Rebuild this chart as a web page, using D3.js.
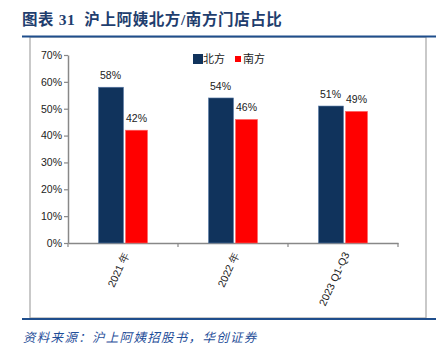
<!DOCTYPE html>
<html>
<head>
<meta charset="utf-8">
<script src="https://cdn.jsdelivr.net/npm/d3@7"></script>
<style>
  body { margin: 0; background: #fff; }
  svg { display: block; }
</style>
</head>
<body>
<svg width="438" height="354"></svg>
<script>
// chart data
var categories = ['2021 年', '2022 年', '2023 Q1-Q3'];
var seriesNames = ['北方', '南方'];
var north = [0.58, 0.54, 0.51];
var south = [0.42, 0.46, 0.49];
var yTicks = [0, 0.1, 0.2, 0.3, 0.4, 0.5, 0.6, 0.7];
var colors = ['#10335c', '#ff0000'];

var svg = d3.select('svg');
var font = '"Liberation Sans", Arial, sans-serif';

// title
svg.append('text')
    .attr('x', 22).attr('y', 25)
    .attr('fill', '#1f3e6e')
    .attr('font-size', 15.5)
    .attr('font-weight', 'bold')
    .attr('letter-spacing', 0.6)
    .attr('font-family', '"Liberation Serif", "Noto Sans CJK SC", serif')
    .style('white-space', 'pre')
    .text('图表 31  沪上阿姨北方/南方门店占比');

// frame
svg.append('rect')
    .attr('x', 30).attr('y', 37)
    .attr('width', 396).attr('height', 281)
    .attr('fill', 'none')
    .attr('stroke', '#a6a6a6')
    .attr('stroke-width', 1.2);
svg.append('line').attr('x1', 22).attr('x2', 436).attr('y1', 36.5).attr('y2', 36.5)
    .attr('stroke', '#1f4e8c').attr('stroke-width', 2);
svg.append('line').attr('x1', 22).attr('x2', 436).attr('y1', 319).attr('y2', 319)
    .attr('stroke', '#1f4e8c').attr('stroke-width', 2);

// source
svg.append('text')
    .attr('x', 23).attr('y', 342)
    .attr('fill', '#1f4e99')
    .attr('font-size', 12.5)
    .attr('font-style', 'italic')
    .attr('letter-spacing', 1.3)
    .attr('font-family', '"Noto Sans CJK SC", sans-serif')
    .text('资料来源：沪上阿姨招股书，华创证券');

// scales
var x = d3.scaleBand().domain(categories).range([68, 398]);
var y = d3.scaleLinear().domain([0, 0.7]).range([243, 55]);

// y axis
var yAxis = svg.append('g')
    .attr('transform', 'translate(68,0)')
    .call(d3.axisLeft(y).tickValues(yTicks).tickFormat(d3.format('.0%')).tickSize(4).tickSizeOuter(0));
yAxis.select('.domain').attr('stroke', '#888').attr('stroke-width', 1.5);
yAxis.selectAll('.tick line').attr('stroke', '#888').attr('stroke-width', 1.2);
yAxis.selectAll('.tick text')
    .attr('fill', '#222')
    .attr('font-size', 10.5)
    .attr('font-family', font)
    .attr('x', -6);

// x axis
var xAxis = svg.append('g')
    .attr('transform', 'translate(0,243)')
    .call(d3.axisBottom(x).tickSize(0).tickSizeOuter(0));
xAxis.select('.domain').attr('stroke', '#888').attr('stroke-width', 1.5);
xAxis.selectAll('.tick text')
    .attr('fill', '#222')
    .attr('font-size', 10.5)
    .attr('font-family', font)
    .attr('text-anchor', 'end')
    .attr('dy', 0)
    .attr('transform', 'translate(4,10) rotate(-65)');

// category boundary ticks
var bounds = [68].concat(categories.map(function (c) { return x(c) + x.bandwidth(); }));
svg.selectAll('.xtick').data(bounds).enter().append('line')
    .attr('x1', function (d) { return d; }).attr('x2', function (d) { return d; })
    .attr('y1', 243).attr('y2', 247)
    .attr('stroke', '#888').attr('stroke-width', 1.2);

// bars
var barW = 24;
var gap = 3;
var series = [north, south];
series.forEach(function (vals, si) {
    var g = svg.append('g');
    g.selectAll('rect').data(vals).enter().append('rect')
        .attr('x', function (d, i) {
            var c = x(categories[i]) + x.bandwidth() / 2;
            return si === 0 ? c - barW - gap / 2 + 1 : c + gap / 2 + 1;
        })
        .attr('y', function (d) { return y(d); })
        .attr('width', si === 0 ? barW + 1 : barW - 2)
        .attr('height', function (d) { return 243 - y(d); })
        .attr('fill', colors[si])
        .attr('stroke', si === 0 ? '#5a7ca8' : '#ff6666')
        .attr('stroke-width', 0.6);
    g.selectAll('text').data(vals).enter().append('text')
        .attr('x', function (d, i) {
            var c = x(categories[i]) + x.bandwidth() / 2;
            return si === 0 ? c - barW / 2 - gap / 2 + 1 : c + barW / 2 + gap / 2;
        })
        .attr('y', function (d) { return y(d) - 8; })
        .attr('text-anchor', 'middle')
        .attr('fill', '#222')
        .attr('font-size', 10.5)
        .attr('font-family', font)
        .text(function (d) { return d3.format('.0%')(d); });
});

// legend
var legend = svg.append('g').attr('transform', 'translate(193,59)');
legend.append('rect').attr('x', 0).attr('y', -5).attr('width', 10).attr('height', 10).attr('fill', colors[0]);
legend.append('text').attr('x', 10).attr('y', 4).attr('font-size', 11)
    .attr('font-family', '"Noto Sans CJK SC", sans-serif').attr('fill', '#222').text(seriesNames[0]);
legend.append('rect').attr('x', 42).attr('y', -3).attr('width', 6).attr('height', 6).attr('fill', colors[1]);
legend.append('text').attr('x', 50).attr('y', 4).attr('font-size', 11)
    .attr('font-family', '"Noto Sans CJK SC", sans-serif').attr('fill', '#222').text(seriesNames[1]);
</script>
</body>
</html>
